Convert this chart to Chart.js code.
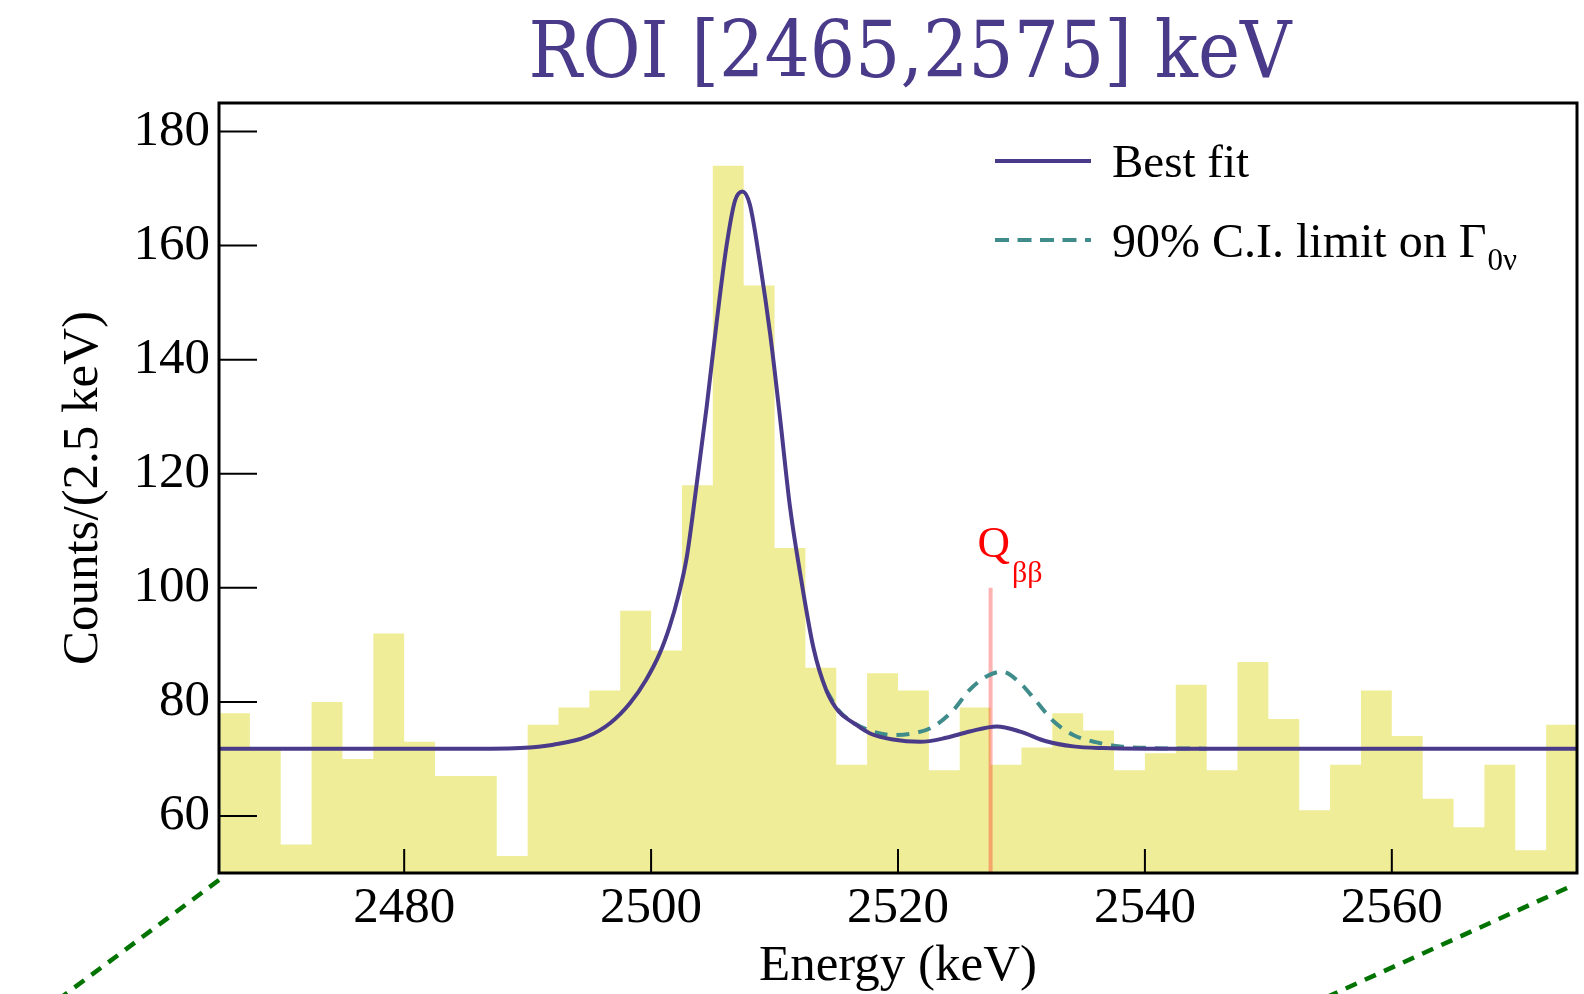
<!DOCTYPE html>
<html>
<head>
<meta charset="utf-8">
<script src="https://cdn.jsdelivr.net/npm/chart.js@4.4.1/dist/chart.umd.min.js"></script>
<style>
html, body { margin: 0; padding: 0; background: #fff; }
#wrap { width: 1584px; height: 994px; }
</style>
</head>
<body>
<div id="wrap"><canvas id="roi" width="1584" height="994"></canvas></div>
<script>
// histogram: lower edge of each 2.5 keV bin and its counts
var binStart = [2465, 2467.5, 2470, 2472.5, 2475, 2477.5, 2480, 2482.5, 2485, 2487.5,
                2490, 2492.5, 2495, 2497.5, 2500, 2502.5, 2505, 2507.5, 2510, 2512.5,
                2515, 2517.5, 2520, 2522.5, 2525, 2527.5, 2530, 2532.5, 2535, 2537.5,
                2540, 2542.5, 2545, 2547.5, 2550, 2552.5, 2555, 2557.5, 2560, 2562.5,
                2565, 2567.5, 2570, 2572.5];
var binEnd = 2575;
var counts = [78, 72, 55, 80, 70, 92, 73, 67, 67, 53,
              76, 79, 82, 96, 89, 118, 174, 153, 107, 86,
              69, 85, 82, 68, 79, 69, 72, 78, 75, 68,
              71, 83, 68, 87, 77, 61, 69, 82, 74, 63,
              58, 69, 54, 76];

// best fit curve
var fitEnergy = [2465, 2475, 2483, 2487, 2489.4, 2492.1, 2494.8, 2496.7, 2498.3, 2499.6,
                 2500.7, 2501.5, 2502.2, 2502.9, 2503.7, 2504.5, 2505.3, 2506.1, 2506.8, 2507.4,
                 2508.0, 2508.8, 2509.65, 2510.45, 2511.25, 2512.1, 2513.15, 2514.2, 2515.2, 2516.4,
                 2517.7, 2519.6, 2521.8, 2523.9, 2525.8, 2528.0, 2529.9, 2532.0, 2534.2, 2536.6,
                 2540, 2550, 2575];
var fitCounts = [71.8, 71.8, 71.8, 71.8, 71.9, 72.5, 73.9, 76.3, 79.8, 83.9,
                 88.5, 93.2, 98.5, 105.5, 118.3, 131.7, 146.4, 159.8, 167.9, 169.5,
                 167.2, 157.2, 144.4, 129.7, 114.2, 102.2, 89.5, 82.0, 78.3, 76.3,
                 74.5, 73.4, 73.0, 73.7, 74.8, 75.7, 74.8, 73.1, 72.2, 71.9,
                 71.8, 71.8, 71.8];

// 90% C.I. limit curve, only where it leaves the best fit
var limitEnergy = [2514.2, 2515.2, 2516.2, 2517.7, 2519.6, 2521.5, 2522.9, 2524.5, 2525.8, 2527.2,
                   2528.4, 2529.9, 2531.2, 2532.6, 2534.2, 2536.1, 2538.0, 2540.7, 2545];
var limitCounts = [82.0, 78.5, 76.6, 75.0, 74.2, 74.6, 75.7, 78.6, 82.1, 84.5,
                   85.3, 83.3, 80.1, 76.6, 74.2, 72.9, 72.2, 71.9, 71.8];

var qValue = 2527.5;
var qLineCounts = [50, 100];

var xTicks = [2480, 2500, 2520, 2540, 2560];
var yTicks = [60, 80, 100, 120, 140, 160, 180];

var purple = '#4a3a8a';
var teal = '#3f8c8a';

Chart.defaults.font.family = "'Liberation Serif', 'Times New Roman', serif";
Chart.defaults.color = '#000';

// histogram as a filled step line, last bin closed at binEnd
var histData = binStart.map(function (x, i) { return { x: x, y: counts[i] }; });
histData.push({ x: binEnd, y: counts[counts.length - 1] });

var fitData = fitEnergy.map(function (x, i) { return { x: x, y: fitCounts[i] }; });
var limitData = limitEnergy.map(function (x, i) { return { x: x, y: limitCounts[i] }; });
var qData = qLineCounts.map(function (y) { return { x: qValue, y: y }; });

// frame, inward ticks, title, legend, Q label and zoom guide lines
var decor = {
    id: 'decor',
    afterDraw: function (chart) {
        var ctx = chart.ctx, a = chart.chartArea;
        var xs = chart.scales.x, ys = chart.scales.y;
        ctx.save();

        ctx.strokeStyle = '#000';
        ctx.lineWidth = 2;
        ctx.beginPath();
        xs.ticks.forEach(function (t) {
            var px = xs.getPixelForValue(t.value);
            ctx.moveTo(px, a.bottom);
            ctx.lineTo(px, a.bottom - 24);
        });
        ys.ticks.forEach(function (t) {
            var py = ys.getPixelForValue(t.value);
            ctx.moveTo(a.left, py);
            ctx.lineTo(a.left + 38, py);
        });
        ctx.stroke();
        ctx.lineWidth = 3;
        ctx.strokeRect(a.left, a.top, a.right - a.left, a.bottom - a.top);

        // title
        var title = 'ROI [2465,2575] keV';
        ctx.font = "78px 'DejaVu Serif', serif";
        ctx.fillStyle = purple;
        ctx.textBaseline = 'alphabetic';
        ctx.textAlign = 'center';
        var w = ctx.measureText(title).width;
        ctx.save();
        ctx.translate((a.left + a.right) / 2 + 12, 77);
        ctx.scale(763 / w, 1);
        ctx.fillText(title, 0, 0);
        ctx.restore();

        // legend
        var lx0 = a.right - 582, lx1 = a.right - 486, tx = a.right - 465;
        ctx.textAlign = 'left';
        ctx.lineWidth = 4;
        ctx.strokeStyle = purple;
        ctx.beginPath();
        ctx.moveTo(lx0, a.top + 58);
        ctx.lineTo(lx1, a.top + 58);
        ctx.stroke();
        ctx.strokeStyle = teal;
        ctx.setLineDash([14, 8.5]);
        ctx.beginPath();
        ctx.moveTo(lx0, a.top + 137);
        ctx.lineTo(lx1, a.top + 137);
        ctx.stroke();
        ctx.setLineDash([]);
        ctx.fillStyle = '#000';
        ctx.font = "47px 'Liberation Serif', serif";
        ctx.fillText('Best fit', tx, a.top + 74);
        var lab = '90% C.I. limit on \u0393';
        ctx.font = "48px 'Liberation Serif', serif";
        ctx.fillText(lab, tx, a.top + 154);
        var lw = ctx.measureText(lab).width;
        ctx.font = "31px 'Liberation Serif', serif";
        ctx.fillText('0\u03bd', tx + lw + 1, a.top + 167);

        // Q label above the marker line
        var qx = xs.getPixelForValue(qValue);
        var qy = ys.getPixelForValue(qLineCounts[1]);
        ctx.fillStyle = '#ff0000';
        ctx.font = "45px 'Liberation Serif', serif";
        ctx.fillText('Q', qx - 13, qy - 31);
        var qw = ctx.measureText('Q').width;
        ctx.font = "30px 'Liberation Serif', serif";
        ctx.fillText('\u03b2\u03b2', qx - 13 + qw + 2, qy - 6);

        // dashed zoom guide lines below the frame
        ctx.strokeStyle = '#007300';
        ctx.lineWidth = 4.5;
        ctx.setLineDash([12, 9]);
        ctx.beginPath();
        ctx.moveTo(a.left, a.bottom + 7);
        ctx.lineTo(a.left - 160, a.bottom + 126);
        ctx.moveTo(a.right - 10, a.bottom + 15);
        ctx.lineTo(a.right - 250, a.bottom + 124);
        ctx.stroke();
        ctx.restore();
    }
};

var ctx = document.getElementById('roi').getContext('2d');
var chart = new Chart(ctx, {
    type: 'line',
    data: {
        datasets: [{
            label: 'Best fit',
            data: fitData,
            borderColor: purple,
            borderWidth: 4,
            pointRadius: 0,
            cubicInterpolationMode: 'monotone',
            fill: false
        }, {
            label: '90% C.I. limit',
            data: limitData,
            borderColor: teal,
            borderWidth: 4,
            borderDash: [13, 9],
            pointRadius: 0,
            cubicInterpolationMode: 'monotone',
            fill: false
        }, {
            label: 'Q',
            data: qData,
            borderColor: 'rgba(255,0,0,0.3)',
            borderWidth: 4,
            pointRadius: 0,
            fill: false
        }, {
            label: 'Data',
            data: histData,
            stepped: true,
            borderColor: 'rgba(0,0,0,0)',
            borderWidth: 0,
            backgroundColor: '#f0ed98',
            pointRadius: 0,
            fill: 'start'
        }]
    },
    options: {
        responsive: false,
        animation: false,
        layout: { padding: { top: 103, right: 7, left: 0, bottom: 0 } },
        plugins: {
            legend: { display: false },
            tooltip: { enabled: false }
        },
        scales: {
            x: {
                type: 'linear',
                min: 2465,
                max: 2575,
                afterBuildTicks: function (s) { s.ticks = xTicks.map(function (v) { return { value: v }; }); },
                afterFit: function (s) { s.height = 121; },
                grid: { display: false, drawTicks: false },
                border: { display: false },
                ticks: {
                    font: { size: 51 }, color: '#000', padding: 5, maxRotation: 0, autoSkip: false,
                    callback: function (v) { return String(v); }
                },
                title: {
                    display: true,
                    text: 'Energy (keV)',
                    color: '#000',
                    font: { size: 51, lineHeight: 1 },
                    padding: { top: 0, bottom: 2 }
                }
            },
            y: {
                min: 50,
                max: 185,
                afterBuildTicks: function (s) { s.ticks = yTicks.map(function (v) { return { value: v }; }); },
                afterFit: function (s) { s.width = 219; },
                grid: { display: false, drawTicks: false },
                border: { display: false },
                ticks: { font: { size: 51 }, color: '#000', padding: 9 },
                title: {
                    display: true,
                    text: 'Counts/(2.5 keV)',
                    color: '#000',
                    font: { size: 51, lineHeight: 1 },
                    padding: { top: 58, bottom: 0 }
                }
            }
        }
    },
    plugins: [decor]
});
</script>
</body>
</html>
